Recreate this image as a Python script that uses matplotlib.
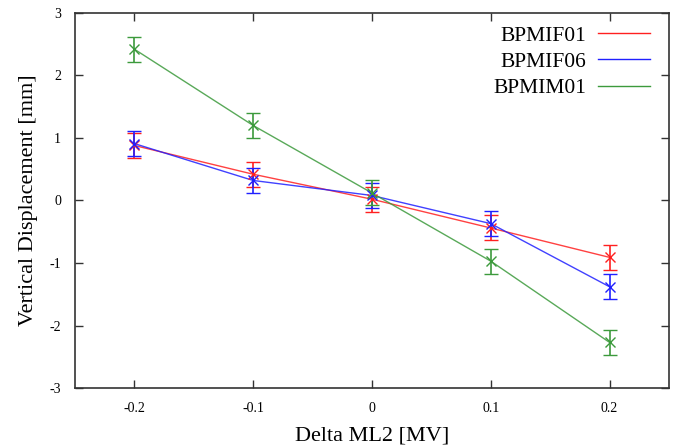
import numpy as np
import matplotlib.pyplot as plt
from matplotlib.lines import Line2D

# RF voltage offset of ML2 and measured vertical orbit shift at three BPMs
delta_ml2 = [-0.2, -0.1, 0.0, 0.1, 0.2]
bpmif01 = [0.88, 0.42, 0.02, -0.44, -0.91]
bpmif06 = [0.91, 0.32, 0.08, -0.37, -1.38]
bpmim01 = [2.42, 1.20, 0.12, -0.97, -2.27]
err = [0.2, 0.2, 0.2, 0.2, 0.2]

names = ['BPMIF01', 'BPMIF06', 'BPMIM01']
series = [bpmif01, bpmif06, bpmim01]
colors = ['#ff2020', '#2020ff', '#3c9a3c']

plt.rcParams['font.family'] = ['Liberation Serif', 'DejaVu Serif']
plt.rcParams['axes.unicode_minus'] = False

fig = plt.figure(figsize=(6.75, 4.45), dpi=100)
ax = fig.add_axes([0.111, 0.128, 0.880, 0.843])

for name, vals, col in zip(names, series, colors):
    ax.plot(delta_ml2, vals, color=col, lw=1.0, alpha=0.85)
    ax.errorbar(delta_ml2, vals, yerr=err, fmt='x', color=col, ms=7,
                mew=1.0, elinewidth=1.2, capsize=5, capthick=1.2)

ax.set_xlim(-0.25, 0.25)
ax.set_ylim(-3, 3)
ax.set_xticks([-0.2, -0.1, 0, 0.1, 0.2])
ax.set_xticklabels(['-0.2', '-0.1', '0', '0.1', '0.2'])
ax.set_yticks([-3, -2, -1, 0, 1, 2, 3])
ax.tick_params(direction='in', length=6, width=1, top=True, right=True,
               labelsize=10, pad=10, colors='#333333', labelcolor='black')

for sp in ax.spines.values():
    sp.set_linewidth(1.2)
    sp.set_color('#333333')

ax.set_xlabel('Delta ML2 [MV]', fontsize=16, labelpad=8)
ax.set_ylabel('Vertical Displacement [mm]', fontsize=16, labelpad=8)

handles = [Line2D([], [], color=c, lw=1.0) for c in colors]
ax.legend(handles, names, loc='upper right', frameon=False, markerfirst=False,
          fontsize=15.5, handlelength=2.4, handletextpad=0.55, labelspacing=0.28,
          borderaxespad=0.2, bbox_to_anchor=(0.99, 1.0))

fig.savefig('out.png', dpi=100)
